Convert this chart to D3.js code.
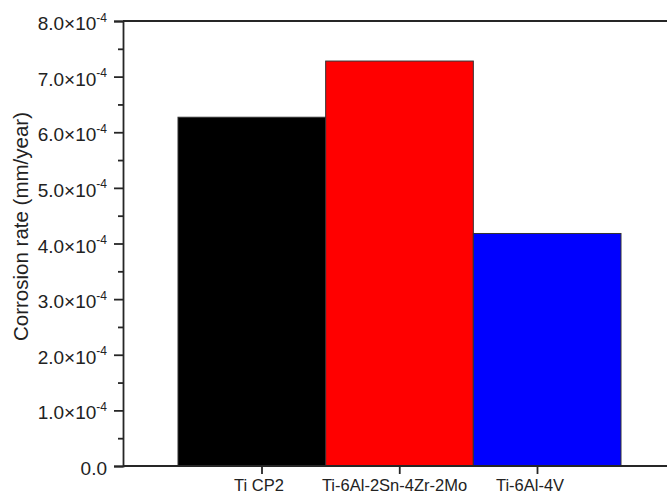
<!DOCTYPE html>
<html>
<head>
<meta charset="utf-8">
<script src="https://cdn.jsdelivr.net/npm/d3@7"></script>
<style>
  body { margin: 0; background: #fff; }
  text { font-family: "Liberation Sans", Arial, sans-serif; }
</style>
</head>
<body>
<div id="chart"></div>
<script>
// data
const alloys = ["Ti CP2", "Ti-6Al-2Sn-4Zr-2Mo", "Ti-6Al-4V"];
const corrosionRate = [6.27e-4, 7.28e-4, 4.18e-4];
const barColors = ["#000000", "#ff0000", "#0000ff"];
const yTicks = [0, 1e-4, 2e-4, 3e-4, 4e-4, 5e-4, 6e-4, 7e-4, 8e-4];

const width = 667, height = 494;
const plotLeft = 123, plotTop = 21, plotBottom = 466;

const svg = d3.select("#chart")
    .append("svg")
    .attr("width", width)
    .attr("height", height);

const yScale = d3.scaleLinear()
    .domain([0, 8e-4])
    .range([plotBottom, plotTop]);

// bars, ticks and labels don't line up exactly in the original
const barScale = d3.scaleBand()
    .domain(alloys)
    .range([178, 621])
    .padding(0);

const tickScale = d3.scalePoint()
    .domain(alloys)
    .range([261.5, 537]);

const labelScale = d3.scalePoint()
    .domain(alloys)
    .range([259, 530]);

// Bars
svg.selectAll(".bar")
    .data(alloys)
    .enter()
    .append("rect")
    .attr("x", d => barScale(d))
    .attr("y", (d, i) => yScale(corrosionRate[i]))
    .attr("width", barScale.bandwidth())
    .attr("height", (d, i) => plotBottom - yScale(corrosionRate[i]))
    .attr("fill", (d, i) => barColors[i])
    .attr("stroke", "#333")
    .attr("stroke-width", 1);

// Top frame line
svg.append("line")
    .attr("x1", plotLeft).attr("x2", width + 5)
    .attr("y1", plotTop).attr("y2", plotTop)
    .attr("stroke", "#262626")
    .attr("stroke-width", 1.8);

// Y axis
svg.append("g")
    .attr("transform", `translate(${plotLeft},0)`)
    .call(d3.axisLeft(yScale).tickValues(yTicks).tickSize(9).tickFormat(""));

// minor ticks
svg.append("g")
    .attr("transform", `translate(${plotLeft},0)`)
    .call(d3.axisLeft(yScale).tickValues(d3.range(0.5e-4, 8e-4, 1e-4)).tickSize(5).tickFormat(""))
    .call(g => g.select(".domain").remove());

// X axis
svg.append("g")
    .attr("transform", `translate(0,${plotBottom})`)
    .call(d3.axisBottom(tickScale).tickSize(8).tickFormat(""))
    .call(g => g.select(".domain").attr("d", `M${plotLeft},0H${width + 5}`));

svg.selectAll(".domain, .tick line")
    .attr("stroke", "#262626")
    .attr("stroke-width", 1.8);

// Y tick labels with superscript exponent
yTicks.forEach(v => {
    const t = svg.append("text")
        .attr("x", 107)
        .attr("y", yScale(v) + 9)
        .attr("text-anchor", "end")
        .style("font-size", "19px")
        .attr("fill", "#222");
    if (v === 0) {
        t.text("0.0");
    } else {
        const m = (v / 1e-4).toFixed(1);
        t.append("tspan").text(m + "\u00d710");
        t.append("tspan")
            .attr("dy", -8.5)
            .style("font-size", "12px")
            .text("-4");
    }
});

// X tick labels
svg.selectAll(".xlab")
    .data(alloys)
    .enter()
    .append("text")
    .attr("class", "xlab")
    .attr("x", d => labelScale(d))
    .attr("y", 490.5)
    .attr("text-anchor", "middle")
    .style("font-size", "16.5px")
    .attr("fill", "#222")
    .text(d => d);

// Y axis title
svg.append("text")
    .attr("transform", `translate(28,${(plotTop + plotBottom) / 2 - 17}) rotate(-90)`)
    .attr("text-anchor", "middle")
    .style("font-size", "20.5px")
    .attr("fill", "#222")
    .text("Corrosion rate (mm/year)");
</script>
</body>
</html>
